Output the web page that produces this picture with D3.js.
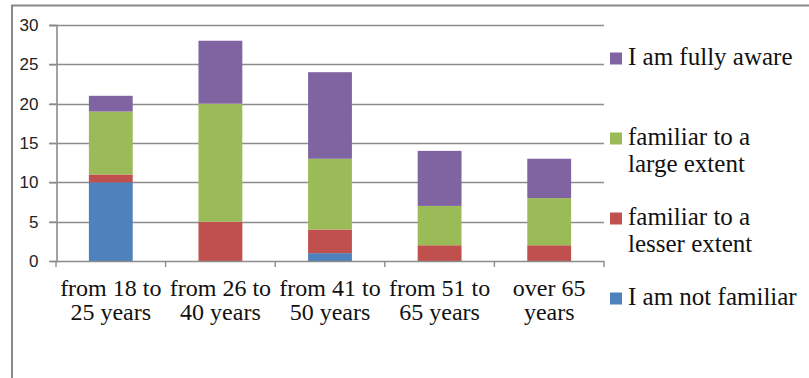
<!DOCTYPE html>
<html>
<head>
<meta charset="utf-8">
<script src="https://cdn.jsdelivr.net/npm/d3@7"></script>
<style>
  html, body { margin: 0; padding: 0; background: #fff; }
  svg { display: block; }
  .serif { font-family: "Liberation Serif", "DejaVu Serif", "Times New Roman", serif; }
  .sans { font-family: "Liberation Sans", Arial, sans-serif; }
</style>
</head>
<body>
<svg id="chart" width="809" height="378"></svg>
<script>
// Age groups (each label is two lines)
const categories = [
  ["from 18 to", "25 years"],
  ["from 26 to", "40 years"],
  ["from 41 to", "50 years"],
  ["from 51 to", "65 years"],
  ["over 65", "years"]
];

// Responses per age group, stacked bottom to top
const notFamiliar   = [10, 0, 1, 0, 0];
const lesserExtent  = [1, 5, 3, 2, 2];
const largeExtent   = [8, 15, 9, 5, 6];
const fullyAware    = [2, 8, 11, 7, 5];

const seriesNames  = ["I am not familiar", "familiar to a lesser extent", "familiar to a large extent", "I am fully aware"];
const seriesColors = ["#4f81bd", "#c0504d", "#9bbb59", "#8064a2"];
const yTicks = [0, 5, 10, 15, 20, 25, 30];

// Legend labels, top entry first, wrapped into lines
const legendLines = [
  ["I am fully aware"],
  ["familiar to a", "large extent"],
  ["familiar to a", "lesser extent"],
  ["I am not familiar"]
];

const svg = d3.select("#chart");
const gridColor = "#8c8c8c";

// Outer chart frame (runs past the right and bottom edges)
svg.append("rect")
  .attr("x", 12).attr("y", 5.5)
  .attr("width", 900).attr("height", 500)
  .attr("fill", "none")
  .attr("stroke", "#888")
  .attr("stroke-width", 2);

const keys = categories.map((c, i) => i);
const x = d3.scaleBand()
  .domain(keys)
  .range([56, 604])
  .paddingInner(0.6)
  .paddingOuter(0.3);

const y = d3.scaleLinear().domain([0, 30]).range([261, 25]);

// Gridlines and y tick marks
svg.append("g")
  .selectAll("line")
  .data(yTicks.filter(t => t > 0))
  .join("line")
  .attr("x1", 49).attr("x2", 604)
  .attr("y1", d => Math.round(y(d)) + 0.5)
  .attr("y2", d => Math.round(y(d)) + 0.5)
  .attr("stroke", gridColor)
  .attr("stroke-width", 1.4);

// Y axis via d3.axisLeft
const yAxis = svg.append("g")
  .attr("transform", "translate(56.5,0)")
  .call(d3.axisLeft(y).tickValues(yTicks).tickSize(7).tickPadding(11));
yAxis.attr("font-family", null);
yAxis.select(".domain").attr("stroke", gridColor).attr("stroke-width", 1.6);
yAxis.selectAll(".tick line").attr("stroke", gridColor).attr("stroke-width", 1.4);
yAxis.selectAll(".tick text")
  .attr("class", "sans")
  .attr("font-size", 17)
  .attr("fill", "#222");

// Stacked bars
const rows = keys.map(i => ({
  i,
  s0: notFamiliar[i], s1: lesserExtent[i], s2: largeExtent[i], s3: fullyAware[i]
}));
const stack = d3.stack().keys(["s0", "s1", "s2", "s3"]);
const layers = stack(rows);

svg.append("g")
  .selectAll("g")
  .data(layers)
  .join("g")
  .attr("fill", (d, k) => seriesColors[k])
  .selectAll("rect")
  .data(d => d.filter(p => p[1] > p[0]))
  .join("rect")
  .attr("x", d => x(d.data.i))
  .attr("width", x.bandwidth())
  .attr("y", d => y(d[1]))
  .attr("height", d => y(d[0]) - y(d[1]));

// X axis line and category tick marks
const step = x.step();
const half = (step - x.bandwidth()) / 2;
const bounds = keys.map(i => x(i) - half).concat([x(keys[keys.length - 1]) + x.bandwidth() + half]);
svg.append("line")
  .attr("x1", 56).attr("x2", 604)
  .attr("y1", 261.5).attr("y2", 261.5)
  .attr("stroke", gridColor).attr("stroke-width", 1.6);
svg.append("g")
  .selectAll("line")
  .data(bounds)
  .join("line")
  .attr("x1", d => d).attr("x2", d => d)
  .attr("y1", 261).attr("y2", 267)
  .attr("stroke", gridColor).attr("stroke-width", 1.4);

// Category labels
const catG = svg.append("g")
  .attr("class", "serif")
  .attr("font-size", 24)
  .attr("fill", "#111")
  .attr("text-anchor", "middle");
catG.selectAll("text")
  .data(keys)
  .join("text")
  .attr("x", i => x(i) + x.bandwidth() / 2)
  .attr("y", 296)
  .each(function (i) {
    d3.select(this).selectAll("tspan")
      .data(categories[i])
      .join("tspan")
      .attr("x", x(i) + x.bandwidth() / 2)
      .attr("dy", (d, j) => j === 0 ? 0 : 24)
      .text(d => d);
  });

// Legend
const legendTop = [65, 145, 225, 305];
const legendColorIdx = [3, 2, 1, 0];
const lg = svg.append("g")
  .attr("class", "serif")
  .attr("font-size", 25)
  .attr("fill", "#111");
legendLines.forEach((lines, k) => {
  lg.append("rect")
    .attr("x", 610).attr("y", legendTop[k] - 12.5)
    .attr("width", 12).attr("height", 12)
    .attr("fill", seriesColors[legendColorIdx[k]]);
  const t = lg.append("text").attr("x", 628).attr("y", legendTop[k]);
  lines.forEach((ln, j) => {
    t.append("tspan").attr("x", 628).attr("dy", j === 0 ? 0 : 27).text(ln);
  });
});
</script>
</body>
</html>
